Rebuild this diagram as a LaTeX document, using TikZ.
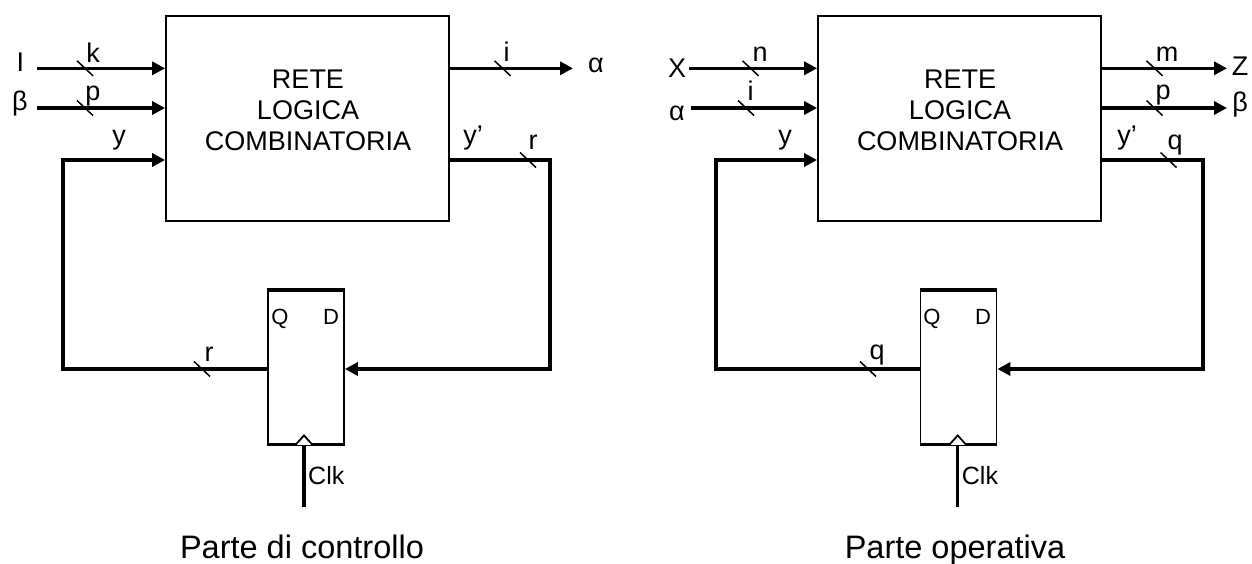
\documentclass[tikz,border=0pt]{standalone}
\usepackage{fontspec}
\setmainfont{Liberation Sans}
\usetikzlibrary{arrows.meta,calc}
\begin{document}
\begin{tikzpicture}[x=1pt,y=-1pt,
  sig/.style={line width=3.5pt},
  arr/.style={sig,-{Triangle[length=13pt,width=13pt]}},
  blk/.style={draw,line width=1.8pt,minimum width=283pt,minimum height=205pt,inner sep=0pt},
  ffbox/.style={draw,line width=1.8pt,minimum width=76pt,minimum height=153pt,inner sep=0pt},
  boxtxt/.style={font=\fontsize{27}{31}\selectfont,align=center,inner sep=0pt},
  lbl/.style={font=\fontsize{27}{31}\selectfont,inner sep=0pt,anchor=base},
  qd/.style={font=\fontsize{22}{25}\selectfont,inner sep=0pt,anchor=base},
  clklbl/.style={font=\fontsize{25}{27}\selectfont,inner sep=0pt,anchor=base west},
  captxt/.style={font=\fontsize{32.5}{36}\selectfont,inner sep=0pt,anchor=base},
  busslash/.pic={\draw[line width=1.5pt] (-8,-7.5) -- (8,7.5);},
]
\path[use as bounding box] (0,0) rectangle (1252,564);

% ================= Parte di controllo =================
\node[blk] (cl) at (307.5,118.5) {};
\node[boxtxt] (cltxt) at (308,110) {RETE\\LOGICA\\COMBINATORIA};
\node[ffbox] (ffl) at (306,367.5) {};
\draw[line width=3.5pt] (ffl.north west) -- (ffl.north east);
\draw[line width=3pt] (ffl.south west) -- (ffl.south east);
\node[qd] (flq) at (280,324) {Q};
\node[qd] (fld) at (331,324) {D};

% inputs
\coordinate (lI) at (37,68.3);
\coordinate (lB) at (37,108);
\draw[arr] (lI) -- (lI -| cl.west);
\draw[arr] (lB) -- (lB -| cl.west);
\pic at (85,68.3) {busslash};
\pic at (85,108) {busslash};
\node[lbl] (tI) at (20.5,72) {I};
\node[lbl] (tB) at (20,111) {β};
\node[lbl] (tk) at (93,62.5) {k};
\node[lbl] (tp) at (93,101) {p};

% output alpha
\coordinate (lA) at (573,68.3);
\draw[arr] (lA -| cl.east) -- (lA);
\pic at (502.5,68.3) {busslash};
\node[lbl] (ti) at (506.5,62) {i};
\node[lbl] (tA) at (596,73) {α};

% feedback
\coordinate (lo1) at (550,160);
\coordinate (lo2) at (550,369);
\draw[arr] (lo1 -| cl.east) -- (lo1) -- (lo2) -- (lo2 -| ffl.east);
\pic at (528,160) {busslash};
\node[lbl] (tylp) at (473,145) {y’};
\node[lbl] (tr1) at (533,150) {r};

\coordinate (lf1) at (63,369);
\coordinate (lf2) at (63,160);
\draw[arr] (lf1 -| ffl.west) -- (lf1) -- (lf2) -- (lf2 -| cl.west);
\pic at (202,369) {busslash};
\node[lbl] (tyl) at (119,145) {y};
\node[lbl] (tr2) at (209,361) {r};

% clock
\coordinate (lck) at (304,507);
\draw[sig] (lck) -- (lck |- ffl.south);
\draw[line width=1.8pt,fill=white] ($(lck |- ffl.south)+(-8.5,0)$) -- ++(8.5,-9.5) -- ++(8.5,9.5);
\node[clklbl] (tclkl) at (308,484) {Clk};

\node[captxt] (capl) at (302,558) {Parte di controllo};

% ================= Parte operativa =================
\node[blk] (op) at (959.5,118.5) {};
\node[boxtxt] (optxt) at (960,110) {RETE\\LOGICA\\COMBINATORIA};
\node[ffbox] (ffr) at (958.5,367.5) {};
\draw[line width=3.5pt] (ffr.north west) -- (ffr.north east);
\draw[line width=3pt] (ffr.south west) -- (ffr.south east);
\node[qd] (frq) at (932,324) {Q};
\node[qd] (frd) at (983,324) {D};

% inputs
\coordinate (rX) at (689,68.3);
\coordinate (rA) at (691,108);
\draw[arr] (rX) -- (rX -| op.west);
\draw[arr] (rA) -- (rA -| op.west);
\pic at (750.5,68.3) {busslash};
\pic at (746,108) {busslash};
\node[lbl] (tX) at (677,78) {X};
\node[lbl] (tAr) at (677,121) {α};
\node[lbl] (tn) at (760,62) {n};
\node[lbl] (tir) at (750.5,101) {i};

% outputs
\coordinate (rZ) at (1227,68.3);
\coordinate (rB) at (1227,108);
\draw[arr] (rZ -| op.east) -- (rZ);
\draw[arr] (rB -| op.east) -- (rB);
\pic at (1154.5,68.3) {busslash};
\pic at (1154.5,108) {busslash};
\node[lbl] (tm) at (1167,62) {m};
\node[lbl] (tpr) at (1163,100) {p};
\node[lbl] (tZ) at (1240,76) {Z};
\node[lbl] (tBr) at (1240,112) {β};

% feedback
\coordinate (ro1) at (1203,160);
\coordinate (ro2) at (1203,369);
\draw[arr] (ro1 -| op.east) -- (ro1) -- (ro2) -- (ro2 -| ffr.east);
\pic at (1168.5,160) {busslash};
\node[lbl] (tyrp) at (1127,145) {y’};
\node[lbl] (tq1) at (1175,150) {q};

\coordinate (rf1) at (716,369);
\coordinate (rf2) at (716,160);
\draw[arr] (rf1 -| ffr.west) -- (rf1) -- (rf2) -- (rf2 -| op.west);
\pic at (868,369) {busslash};
\node[lbl] (tyr) at (785,145) {y};
\node[lbl] (tq2) at (877,359) {q};

% clock
\coordinate (rck) at (957.7,507);
\draw[sig] (rck) -- (rck |- ffr.south);
\draw[line width=1.8pt,fill=white] ($(rck |- ffr.south)+(-8.5,0)$) -- ++(8.5,-9.5) -- ++(8.5,9.5);
\node[clklbl] (tclkr) at (961.7,484) {Clk};

\node[captxt] (capr) at (955,558) {Parte operativa};
\end{tikzpicture}
\end{document}
